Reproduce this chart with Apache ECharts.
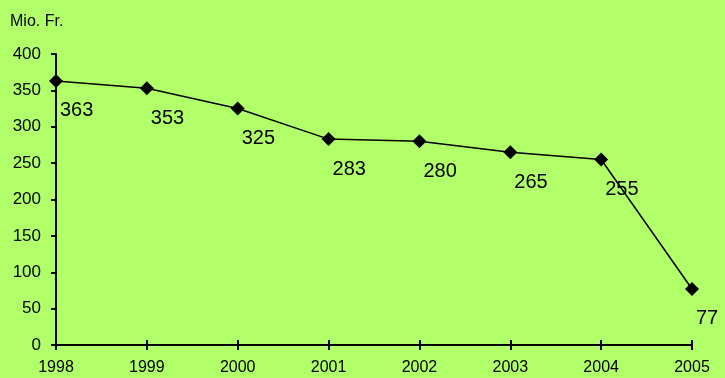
<!DOCTYPE html>
<html lang="de">
<head>
	<meta charset="UTF-8">
	<title>Mio. Fr.</title>
	<script src="https://cdn.jsdelivr.net/npm/echarts@6/dist/echarts.min.js"></script>
	<style>
		html, body { margin: 0; padding: 0; background: #b1ff69; }
		#main { width: 725px; height: 378px; }
	</style>
</head>
<body>
<div id="main"></div>
<script>
    // Daten
    var years = ['1998', '1999', '2000', '2001', '2002', '2003', '2004', '2005'];
    var values = [363, 353, 325, 283, 280, 265, 255, 77];
    var yTicks = [0, 50, 100, 150, 200, 250, 300, 350, 400];

    var myChart = echarts.init(document.getElementById('main'));
    var font = 'Liberation Sans, Arial, sans-serif';
    var option = {
        backgroundColor: '#b1ff69',
        animation: false,
        grid: { left: 56, right: 33, top: 54, bottom: 33 },
        graphic: [{
            type: 'text', left: 10, top: 14,
            style: { text: 'Mio. Fr.', font: '16px ' + font, fill: '#000' }
        }],
        xAxis: [{
            type: 'category', data: years, boundaryGap: false,
            axisLine: { lineStyle: { color: '#000', width: 2 } },
            axisTick: { inside: false, length: 5, lineStyle: { color: '#000', width: 2 } },
            axisLabel: { color: '#000', fontSize: 16, fontFamily: font, margin: 15 },
            splitLine: { show: false }
        }, {
            // Striche nach innen
            type: 'category', data: years, boundaryGap: false, position: 'bottom',
            axisLine: { show: false },
            axisTick: { inside: true, length: 5, lineStyle: { color: '#000', width: 2 } },
            axisLabel: { show: false }
        }],
        yAxis: {
            type: 'value', min: yTicks[0], max: yTicks[yTicks.length - 1], interval: 50,
            axisLine: { show: true, lineStyle: { color: '#000', width: 2 } },
            axisTick: { show: true, length: 5, lineStyle: { color: '#000', width: 2 } },
            axisLabel: { color: '#000', fontSize: 17, fontFamily: font, margin: 15 },
            splitLine: { show: false }
        },
        series: [{
            type: 'line', data: values,
            symbol: 'diamond', symbolSize: 14,
            itemStyle: { color: '#000' },
            lineStyle: { color: '#000', width: 1.5 },
            label: {
                show: true, position: [11, 27], align: 'left', verticalAlign: 'top',
                color: '#000', fontSize: 20, fontFamily: font
            }
        }]
    };
    myChart.setOption(option);
</script>
</body>
</html>
